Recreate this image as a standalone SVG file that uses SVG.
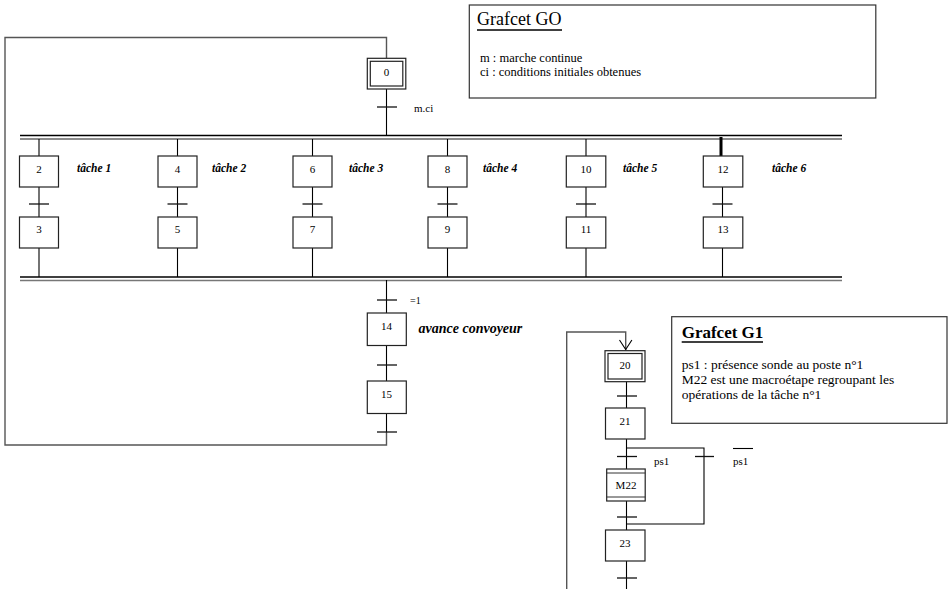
<svg xmlns="http://www.w3.org/2000/svg" width="951" height="589" viewBox="0 0 951 589">
<style>
.ln{stroke:#000;stroke-width:1.1;fill:none}
.lp{stroke:#555;stroke-width:1.4;fill:none}
.bx{fill:#fff;stroke:#222;stroke-width:1.2}
.tr{stroke:#111;stroke-width:1.3}
.num{font-family:"Liberation Serif",serif;font-size:11px;text-anchor:middle;fill:#000}
.lab{font-family:"Liberation Serif",serif;font-size:11px;fill:#000}
.task{font-family:"Liberation Serif",serif;font-size:11.5px;font-weight:bold;font-style:italic;fill:#000}
.body{font-family:"Liberation Serif",serif;font-size:13.5px;fill:#000}
</style>
<rect width="951" height="589" fill="#fff"/>
<g id="connectors">
<!-- G0 loop -->
<polyline class="lp" points="386.5,432 386.5,445 5,445 5,37.5 386.5,37.5 386.5,58"/>
<line class="ln" x1="386.5" y1="89" x2="386.5" y2="136"/>
<line class="tr" x1="377" y1="107" x2="397" y2="107"/>
<!-- double bars -->
<line x1="20" y1="135.5" x2="842" y2="135.5" stroke="#000" stroke-width="1.4"/>
<line x1="20" y1="139" x2="842" y2="139" stroke="#666" stroke-width="1.4"/>
<line x1="20" y1="277" x2="842" y2="277" stroke="#000" stroke-width="1.4"/>
<line x1="20" y1="280.5" x2="842" y2="280.5" stroke="#777" stroke-width="1.4"/>
<!-- branches -->
<g class="ln">
<line x1="39" y1="139" x2="39" y2="156"/><line x1="39" y1="187" x2="39" y2="217"/><line x1="39" y1="248" x2="39" y2="277"/>
<line x1="177.5" y1="139" x2="177.5" y2="156"/><line x1="177.5" y1="187" x2="177.5" y2="217"/><line x1="177.5" y1="248" x2="177.5" y2="277"/>
<line x1="312.5" y1="139" x2="312.5" y2="156"/><line x1="312.5" y1="187" x2="312.5" y2="217"/><line x1="312.5" y1="248" x2="312.5" y2="277"/>
<line x1="447.5" y1="139" x2="447.5" y2="156"/><line x1="447.5" y1="187" x2="447.5" y2="217"/><line x1="447.5" y1="248" x2="447.5" y2="277"/>
<line x1="586" y1="139" x2="586" y2="156"/><line x1="586" y1="187" x2="586" y2="217"/><line x1="586" y1="248" x2="586" y2="277"/>
<line x1="722.5" y1="187" x2="722.5" y2="217"/><line x1="722.5" y1="248" x2="722.5" y2="277"/>
</g>
<line x1="721" y1="137" x2="721" y2="156" stroke="#000" stroke-width="3"/>
<g class="tr">
<line x1="29" y1="204" x2="49" y2="204"/>
<line x1="167.5" y1="204" x2="187.5" y2="204"/>
<line x1="302.5" y1="204" x2="322.5" y2="204"/>
<line x1="437.5" y1="204" x2="457.5" y2="204"/>
<line x1="576" y1="204" x2="596" y2="204"/>
<line x1="712.5" y1="204" x2="732.5" y2="204"/>
</g>
<!-- steps 14, 15 -->
<line class="ln" x1="386.5" y1="280" x2="386.5" y2="313"/>
<line class="ln" x1="386.5" y1="345" x2="386.5" y2="381"/>
<line class="ln" x1="386.5" y1="413" x2="386.5" y2="432"/>
<line class="tr" x1="377" y1="300" x2="397" y2="300"/>
<line class="tr" x1="377" y1="365" x2="397" y2="365"/>
<line class="tr" x1="377" y1="432" x2="397" y2="432"/>
<!-- G1 -->
<polyline class="lp" points="566.7,589 566.7,332 625.7,332 625.7,350"/>
<polyline class="ln" points="619.5,340 625.7,349.5 631.9,340"/>
<line class="ln" x1="626.5" y1="381" x2="626.5" y2="408"/>
<line class="tr" x1="617" y1="396" x2="637" y2="396"/>
<polyline class="ln" points="626.5,439 626.5,448 704,448 704,524 626.5,524"/>
<line class="ln" x1="626.5" y1="448" x2="626.5" y2="469"/>
<line class="tr" x1="617" y1="456.5" x2="637" y2="456.5"/>
<line class="tr" x1="695" y1="456.5" x2="714" y2="456.5"/>
<line class="ln" x1="626.5" y1="501" x2="626.5" y2="530"/>
<line class="tr" x1="617" y1="517" x2="637" y2="517"/>
<line class="ln" x1="626.5" y1="561" x2="626.5" y2="589"/>
<line class="tr" x1="617" y1="578" x2="637" y2="578"/>
</g>
<g id="step0"><rect class="bx" x="367.3" y="58.3" width="38.5" height="30.7"/><rect class="bx" x="370.3" y="61.3" width="32.5" height="24.7"/><text class="num" x="386.5" y="76">0</text></g>
<g id="step2"><rect class="bx" x="19.5" y="156" width="39" height="31"/><text class="num" x="39" y="173">2</text></g>
<g id="step3"><rect class="bx" x="19.5" y="217" width="39" height="31"/><text class="num" x="39" y="233">3</text></g>
<g id="step4"><rect class="bx" x="158" y="156" width="39" height="31"/><text class="num" x="177.5" y="173">4</text></g>
<g id="step5"><rect class="bx" x="158" y="217" width="39" height="31"/><text class="num" x="177.5" y="233">5</text></g>
<g id="step6"><rect class="bx" x="293" y="156" width="39" height="31"/><text class="num" x="312.5" y="173">6</text></g>
<g id="step7"><rect class="bx" x="293" y="217" width="39" height="31"/><text class="num" x="312.5" y="233">7</text></g>
<g id="step8"><rect class="bx" x="428" y="156" width="39" height="31"/><text class="num" x="447.5" y="173">8</text></g>
<g id="step9"><rect class="bx" x="428" y="217" width="39" height="31"/><text class="num" x="447.5" y="233">9</text></g>
<g id="step10"><rect class="bx" x="566.3" y="156" width="39.5" height="31"/><text class="num" x="586" y="173">10</text></g>
<g id="step11"><rect class="bx" x="566.3" y="217" width="39.5" height="31"/><text class="num" x="586" y="233">11</text></g>
<g id="step12"><rect class="bx" x="703.3" y="156" width="39.5" height="31"/><text class="num" x="723" y="173">12</text></g>
<g id="step13"><rect class="bx" x="703.3" y="217" width="39.5" height="31"/><text class="num" x="723" y="233">13</text></g>
<g id="tasks">
<text class="task" x="77" y="172">tâche 1</text>
<text class="task" x="212" y="172">tâche 2</text>
<text class="task" x="349" y="172">tâche 3</text>
<text class="task" x="483" y="172">tâche 4</text>
<text class="task" x="623" y="172">tâche 5</text>
<text class="task" x="772" y="172">tâche 6</text>
</g>
<g id="step14"><rect class="bx" x="367.3" y="313" width="39" height="32.5"/><text class="num" x="386.5" y="330">14</text></g>
<text class="task" x="418.5" y="333" style="font-size:14px">avance convoyeur</text>
<g id="step15"><rect class="bx" x="367.3" y="381" width="39" height="32.5"/><text class="num" x="386.5" y="398">15</text></g>
<text class="lab" x="414" y="112">m.ci</text>
<text class="lab" x="410" y="304" style="font-size:10px">=1</text>
<g id="G0box">
<rect x="469.3" y="5" width="406.5" height="93" fill="#fff" stroke="#333" stroke-width="1.2"/>
<text x="477" y="25" style="font-family:'Liberation Serif',serif;font-size:18px">Grafcet GO</text>
<line x1="477" y1="30" x2="562" y2="30" stroke="#000" stroke-width="1.3"/>
<text class="body" x="480" y="62" style="font-size:12.5px">m : marche continue</text>
<text class="body" x="480" y="76" style="font-size:12.5px">ci : conditions initiales obtenues</text>
</g>
<g id="step20"><rect class="bx" x="605" y="350.7" width="40" height="31"/><rect class="bx" x="608" y="353.5" width="34" height="25.5"/><text class="num" x="625" y="369">20</text></g>
<g id="step21"><rect class="bx" x="605.5" y="408" width="39.5" height="31"/><text class="num" x="625" y="425">21</text></g>
<g id="stepM22"><rect class="bx" x="606.7" y="469" width="38.5" height="32"/><line x1="606.7" y1="473" x2="645.2" y2="473" stroke="#333" stroke-width="1"/><line x1="606.7" y1="497" x2="645.2" y2="497" stroke="#333" stroke-width="1"/><text class="num" x="626" y="489">M22</text></g>
<g id="step23"><rect class="bx" x="605.5" y="530" width="39.5" height="31"/><text class="num" x="625" y="547">23</text></g>
<text class="lab" x="654" y="465">ps1</text>
<text class="lab" x="733" y="465">ps1</text>
<line x1="733" y1="448.5" x2="753" y2="448.5" stroke="#000" stroke-width="1.1"/>
<g id="G1box">
<rect x="671.7" y="316.7" width="275.3" height="106.6" fill="#fff" stroke="#333" stroke-width="1.2"/>
<text x="681.7" y="338" style="font-family:'Liberation Serif',serif;font-size:17px;font-weight:bold">Grafcet G1</text>
<line x1="681.7" y1="342" x2="763" y2="342" stroke="#000" stroke-width="1.4"/>
<text class="body" x="681.7" y="369">ps1 : présence sonde au poste n°1</text>
<text class="body" x="681.7" y="384">M22 est une macroétape regroupant les</text>
<text class="body" x="681.7" y="399">opérations de la tâche n°1</text>
</g>
</svg>
